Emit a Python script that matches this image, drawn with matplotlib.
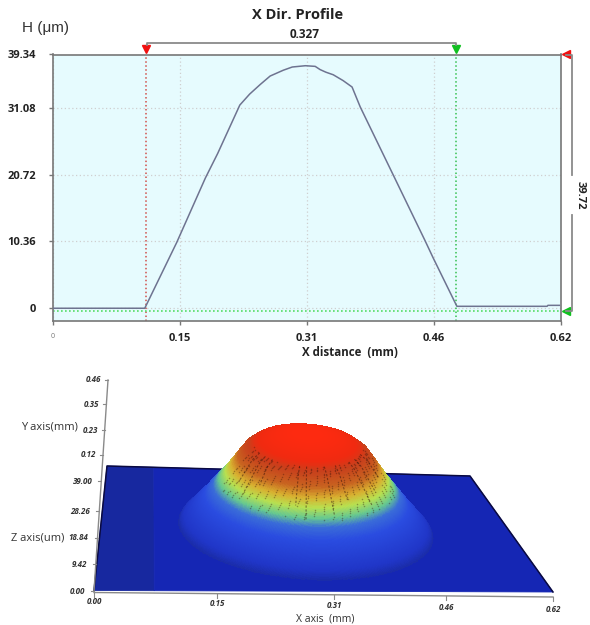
import numpy as np
import matplotlib
matplotlib.use("Agg")
import matplotlib.pyplot as plt
from matplotlib.colors import LinearSegmentedColormap, Normalize

# ---------- data ----------
profile_x = [0, 0.112, 0.151, 0.186, 0.201, 0.228, 0.240, 0.253, 0.265, 0.281, 0.292, 0.308, 0.320, 0.326,
             0.333, 0.342, 0.354, 0.365, 0.375, 0.417, 0.454, 0.464, 0.491, 0.493, 0.603, 0.604, 0.618]
profile_h = [0, 0, 10.2, 20.2, 24.0, 31.5, 33.2, 34.7, 36.0, 36.9, 37.4, 37.6, 37.5, 37.0,
             36.6, 36.2, 35.3, 34.3, 31.2, 20.2, 10.5, 7.8, 0.8, 0.3, 0.3, 0.45, 0.45]
h_ticks = [0, 10.36, 20.72, 31.08, 39.34]
h_labels = ["0", "10.36", "20.72", "31.08", "39.34"]
x_ticks = [0, 0.155, 0.31, 0.465, 0.62]
x_labels = ["0", "0.15", "0.31", "0.46", "0.62"]
cursor_x = [0.1135, 0.4915]
cursor_h = -0.45

dome_r = [0.0, 0.03, 0.055, 0.08, 0.095, 0.125, 0.16, 0.18, 0.188, 0.192]
dome_z = [37.5, 37.2, 35.8, 33.5, 30.8, 20.2, 9.5, 4.0, 1.8, 0.0]
dome_center = (0.302, 0.225)
meridians_deg = [205, 215, 225, 255, 262, 280, 292, 310, 320, 335]
meridians_end = [0.118, 0.125, 0.112, 0.122, 0.135, 0.130, 0.118, 0.128, 0.120, 0.112]
z3_ticks = [0, 9.42, 18.84, 28.26, 39.0]
z3_labels = ["0.00", "9.42", "18.84", "28.26", "39.00"]
y3_ticks = [0.12, 0.23, 0.35, 0.46]
y3_labels = ["0.12", "0.23", "0.35", "0.46"]
x3_ticks = [0, 0.155, 0.31, 0.465, 0.62]
x3_labels = ["0.00", "0.15", "0.31", "0.46", "0.62"]

W, H = 590, 625
plt.rcParams["font.family"] = ["Open Sans", "DejaVu Sans"]
fig = plt.figure(figsize=(W / 100, H / 100), dpi=100, facecolor="white")

def rect(l, t, r, b):
    return [l / W, 1 - b / H, (r - l) / W, (b - t) / H]

# ---------- top profile ----------
ax = fig.add_axes(rect(53, 54.5, 561, 320.5))
ax.set_facecolor("#E6FBFE")
ax.set_xlim(0, 0.62)
ax.set_ylim(-1.9, 39.34)
for s in ["top", "right", "bottom", "left"]:
    ax.spines[s].set_color("#777777")
    ax.spines[s].set_linewidth(1.2)
ax.set_xticks(x_ticks)
ax.set_xticklabels(x_labels, fontsize=8, fontweight="bold", color="#222222")
ax.set_yticks(h_ticks)
ax.set_yticklabels(h_labels, fontsize=8, fontweight="bold", color="#222222")
ax.get_xticklabels()[0].set(fontsize=5, color="#777777", fontweight="normal")
ax.tick_params(axis="both", length=3, width=1, color="#777777")
ax.tick_params(axis="x", pad=6)
ax.tick_params(axis="y", pad=9)
ax.grid(True, color="#CFCFCF", linestyle=(0, (1, 2)), linewidth=0.9)
ax.set_axisbelow(True)
ax.plot(profile_x, profile_h, color="#6E7390", lw=1.1, zorder=3)
ax.axvline(cursor_x[0], color="#D0504A", linestyle=(0, (1, 1.6)), lw=1.1, zorder=2)
ax.axvline(cursor_x[1], color="#35C050", linestyle=(0, (1, 1.6)), lw=1.1, zorder=2)
ax.axhline(cursor_h, color="#55DD66", linestyle=(0, (1, 1.4)), lw=1.2, zorder=2)
ax.plot([cursor_x[0]], [40.2], marker="v", ms=6, color="#F01010", clip_on=False, zorder=5)
ax.plot([cursor_x[1]], [40.2], marker="v", ms=6, color="#10C020", clip_on=False, zorder=5)
ax.plot([0.626], [39.34], marker="<", ms=6, color="#F01010", clip_on=False, zorder=5)
ax.plot([0.626], [cursor_h], marker="<", ms=6, color="#10C020", clip_on=False, zorder=5)
ax.set_xlabel("X distance  (mm)", fontsize=8.3, fontweight="bold", color="#222222")
ax.xaxis.set_label_coords(0.585, -0.095)

# ---------- overlay in figure pixels ----------
ov = fig.add_axes([0, 0, 1, 1], zorder=10)
ov.set_xlim(0, W)
ov.set_ylim(H, 0)
ov.axis("off")
ov.patch.set_alpha(0)
ov.text(298, 15, "X Dir. Profile", ha="center", va="center", fontsize=10.5, fontweight="bold", color="#222222")
ov.text(46, 28, "H (\u03bcm)", ha="center", va="center", fontsize=11, color="#333333",
        family=["Liberation Sans", "DejaVu Sans"])
ov.text(305, 35, "0.327", ha="center", va="center", fontsize=8.5, fontweight="bold", color="#222222")
ov.text(580, 195, "39.72", ha="center", va="center", fontsize=8, fontweight="bold", color="#222222", rotation=-90)
ov.plot([147, 147, 456, 456], [45, 42.5, 42.5, 45], color="#8A8A8A", lw=1.3)
ov.plot([566, 572, 572], [54.5, 54.5, 175], color="#8A8A8A", lw=1.3)
ov.plot([572, 572, 566], [215, 311, 311], color="#8A8A8A", lw=1.3)

# ---------- 3D panel ----------
src = np.array([[0, 0], [0.62, 0], [0.62, 0.46], [0, 0.46]], float)
dst = np.array([[94, 590.5], [553, 592], [470, 476], [107, 466]], float)
A, b = [], []
for (u, v), (px, py) in zip(src, dst):
    A.append([u, v, 1, 0, 0, 0, -u * px, -v * px]); b.append(px)
    A.append([0, 0, 0, u, v, 1, -u * py, -v * py]); b.append(py)
hom = np.append(np.linalg.solve(np.array(A), np.array(b)), 1).reshape(3, 3)

Z_SCALE = 2.45
def project(x, y, z=0.0):
    x, y, z = np.asarray(x, float), np.asarray(y, float), np.asarray(z, float)
    w = hom[2, 0] * x + hom[2, 1] * y + hom[2, 2]
    px = (hom[0, 0] * x + hom[0, 1] * y + hom[0, 2]) / w
    py = (hom[1, 0] * x + hom[1, 1] * y + hom[1, 2]) / w
    return px, py - Z_SCALE * z

# plane
bands = [(0, 0.075, "#17289F"), (0.075, 0.62, "#1526B4")]
for x0, x1, col in bands:
    px, py = project([x0, x1, x1, x0], [0, 0, 0.46, 0.46])
    ov.fill(px, py, facecolor=col, edgecolor=col, lw=0.6, zorder=1)
px, py = project([0, 0, 0.62, 0.62], [0, 0.46, 0.46, 0])
ov.plot(px, py, color="#0A0A40", lw=1.1, zorder=2)

# dome
cmap = LinearSegmentedColormap.from_list("dome", [
    (0.00, "#1A2CA8"), (0.08, "#2036C8"), (0.30, "#2A4CE0"), (0.40, "#3A6CD8"),
    (0.47, "#66C890"), (0.55, "#B8E050"), (0.63, "#D8B030"), (0.72, "#C86420"),
    (0.84, "#C8401C"), (0.90, "#F02A10"), (1.00, "#FF2A10")])
norm = Normalize(0, 38)
gx = np.linspace(0.10, 0.50, 521)
gy = np.linspace(0.45, 0.02, 341)
GX, GY = np.meshgrid(gx, gy)
R = np.hypot(GX - dome_center[0], GY - dome_center[1])
Z = np.interp(R, dome_r, dome_z)
PX, PY = project(GX, GY, Z)
Rc = 0.25 * (R[:-1, :-1] + R[1:, :-1] + R[:-1, 1:] + R[1:, 1:])
Zc = 0.25 * (Z[:-1, :-1] + Z[1:, :-1] + Z[:-1, 1:] + Z[1:, 1:])
Zc = np.ma.masked_where(Rc > dome_r[-1], Zc)
ov.pcolormesh(PX, PY, Zc, cmap=cmap, norm=norm, shading="flat", antialiased=False, zorder=3, rasterized=True)

# streaks and surface texture on the flank
for deg, r_end in zip(meridians_deg, meridians_end):
    th = np.deg2rad(deg)
    rr = np.linspace(0.083, r_end, 14)
    zz = np.interp(rr, dome_r, dome_z)
    px, py = project(dome_center[0] + rr * np.cos(th), dome_center[1] + rr * np.sin(th), zz)
    ov.plot(px, py, color="#301008", lw=0.8, alpha=0.5, linestyle=(0, (2, 1.5)), zorder=4)

tex_r = 0.083 + 0.052 * ((np.arange(420) * 0.618034) % 1)
tex_t = np.deg2rad(190 + 160 * ((np.arange(420) * 0.754878) % 1))
tex_z = np.interp(tex_r, dome_r, dome_z)
px, py = project(dome_center[0] + tex_r * np.cos(tex_t), dome_center[1] + tex_r * np.sin(tex_t), tex_z)
ov.scatter(px, py, s=1.2, color="#301008", alpha=0.35, lw=0, zorder=4)

# 3D axes
ax_col = "#8A8A8A"
px, py = project(x3_ticks, [0] * 5)
off = 2 + 3 * np.array(x3_ticks) / 0.62
ov.plot(px, py + off, color=ax_col, lw=1, zorder=2)
for t, p, q, o, lab in zip(x3_ticks, px, py, off, x3_labels):
    ov.plot([p, p], [q + o, q + o + 4], color=ax_col, lw=0.8)
    ov.text(p, q + 11.5 + 6 * t / 0.62, lab, ha="center", va="center", fontsize=5.8, style="italic",
            fontweight="bold", color="#333333")
ov.text(325, 619, "X axis  (mm)", ha="center", va="center", fontsize=7.5, color="#333333")

base_x, base_y = 94, 591
top_x, top_y = 108, 380
z_px = 2.82
y_px = 220
def z_pos(z):
    py = base_y - z_px * z
    return base_x + (top_x - base_x) * (base_y - py) / (base_y - top_y), py
def y_pos(y):
    py = base_y - z_px * z3_ticks[-1] - y * y_px
    return base_x + (top_x - base_x) * (base_y - py) / (base_y - top_y), py
ov.plot([base_x, top_x], [base_y, top_y], color=ax_col, lw=1, zorder=2)
for t, lab in zip(z3_ticks, z3_labels):
    p, q = z_pos(t)
    ov.plot([p - 3, p], [q, q], color=ax_col, lw=0.8)
    ov.text(p - 9, q, lab, ha="right", va="center", fontsize=5.8, style="italic", fontweight="bold", color="#333333")
for t, lab in zip(y3_ticks, y3_labels):
    p, q = y_pos(t)
    ov.plot([p - 3, p], [q, q], color=ax_col, lw=0.8)
    ov.text(p - 7, q, lab, ha="right", va="center", fontsize=5.8, style="italic", fontweight="bold", color="#333333")
ov.text(49, 427, "Y axis(mm)", ha="center", va="center", fontsize=8, color="#333333")
ov.text(38, 538, "Z axis(um)", ha="center", va="center", fontsize=8, color="#333333")
ov.set_xlim(0, W)
ov.set_ylim(H, 0)

fig.savefig("out.png", dpi=100)
